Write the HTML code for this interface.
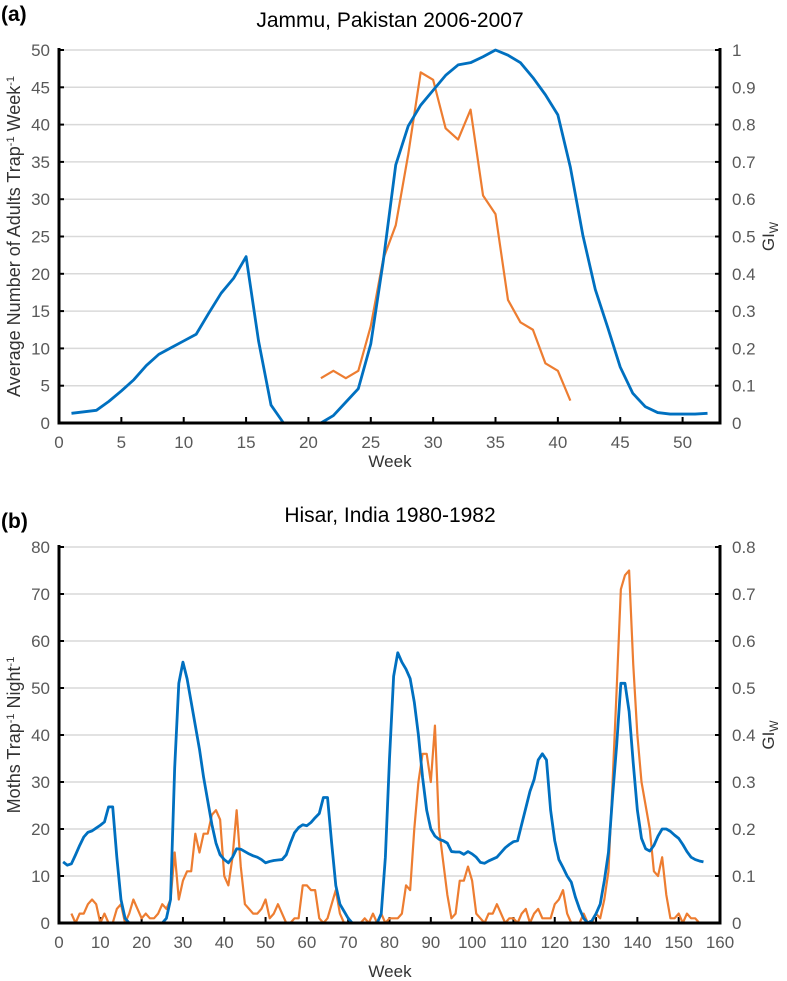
<!DOCTYPE html>
<html><head><meta charset="utf-8"><style>
html,body{margin:0;padding:0;background:#fff;}
svg{display:block;font-family:"Liberation Sans",sans-serif;}
</style></head><body>
<svg id="chart" width="787" height="981" viewBox="0 0 787 981" xmlns="http://www.w3.org/2000/svg"></svg>
<script>
// Panel (a) data
const aWeeks = [1,2,3,4,5,6,7,8,9,10,11,12,13,14,15,16,17,18,19,20,21,22,23,24,25,26,27,28,29,30,31,32,33,34,35,36,37,38,39,40,41,42,43,44,45,46,47,48,49,50,51,52];
const aGI = [0.026,0.03,0.034,0.058,0.086,0.116,0.154,0.184,0.202,0.22,0.238,0.294,0.348,0.388,0.446,0.22,0.048,0,0,0,0,0.02,0.056,0.092,0.212,0.434,0.692,0.796,0.852,0.892,0.932,0.96,0.966,0.982,1.0,0.986,0.966,0.926,0.88,0.826,0.686,0.504,0.358,0.256,0.15,0.08,0.044,0.028,0.024,0.024,0.024,0.026];
const aTrapWeeks = [21,22,23,24,25,26,27,28,29,30,31,32,33,34,35,36,37,38,39,40,41];
const aTrap = [6,7,6,7,13,22,26.5,36,47,46,39.5,38,42,30.5,28,16.5,13.5,12.5,8,7,3];
const aXTicks = [0,5,10,15,20,25,30,35,40,45,50];
const aYTicks = [0,5,10,15,20,25,30,35,40,45,50];
const aY2Ticks = ["0","0.1","0.2","0.3","0.4","0.5","0.6","0.7","0.8","0.9","1"];
// Panel (b) data
const bGI = [13,12.3,12.6,14.5,16.5,18.3,19.3,19.6,20.2,20.8,21.5,24.7,24.7,14,5,1,0,0,0,0,0,0,0,0,0,1,5,33,51,55.5,52,47,42,37,31,26,21,17,14.5,13.5,12.8,14,15.8,15.7,15.2,14.7,14.3,14,13.5,12.8,13.1,13.3,13.4,13.5,14.5,17,19.2,20.3,20.9,20.7,21.4,22.4,23.3,26.7,26.7,17,8,4,2.5,1,0,0,0,0,0,0,0,2,14,35,52.5,57.5,55.5,54,52,47,40,31,24,20,18.5,17.8,17.5,17,15.2,15.1,15.1,14.6,15.2,14.7,14,12.9,12.7,13.2,13.6,14,15,16,16.7,17.3,17.5,21,24.5,28,30.5,34.7,36,34.7,24,17.5,13.5,11.8,10,8.7,5.5,3,1,0,0.5,2,4,9,15,27,38,51,51,45,34,24,18,15.8,15.3,16.5,18.5,20,20,19.5,18.7,18,16.7,15.2,14,13.5,13.2,13].map(v=>v/100);
const bTrapStart = 3;
const bTrap = [2,0,2,2,4,5,4,0,2,0,0,3,4,0,2,5,3,1,2,1,1,2,4,3,5,15,5,9,11,11,19,15,19,19,23,24,22,10,8,14,24,12,4,3,2,2,3,5,1,2,4,2,0,0,1,1,8,8,7,7,1,0,1,4,7,2,0,0,0,0,0,1,0,2,0,2,0,1,1,1,2,8,7,20,30,36,36,30,42,20,13,6,1,2,9,9,12,9,2,1,0,2,2,4,2,0,1,1,0,2,3,0,2,3,1,1,1,4,5,7,2,0,0,0,2,0,0,2,1,5,11,30,50,71,74,75,55,40,30,25,20,11,10,14,6,1,1,2,0,2,1,1,0];
const bXTicks = [0,10,20,30,40,50,60,70,80,90,100,110,120,130,140,150,160];
const bYTicks = [0,10,20,30,40,50,60,70,80];
const bY2Ticks = ["0","0.1","0.2","0.3","0.4","0.5","0.6","0.7","0.8"];

const NS="http://www.w3.org/2000/svg";
const svg=document.getElementById('chart');
function mk(tag,attrs,parent){const e=document.createElementNS(NS,tag);for(const k in attrs)e.setAttribute(k,attrs[k]);(parent||svg).appendChild(e);return e;}
function txt(s,attrs,parent){const e=mk('text',attrs,parent);e.textContent=s;return e;}

function panel(cfg){
  const g=mk('g',{});
  
  
  const X=v=>cfg.x0+(v-cfg.xmin)/(cfg.xmax-cfg.xmin)*(cfg.x1-cfg.x0);
  const Y=v=>cfg.y0-(v/cfg.ymax)*(cfg.y0-cfg.y1);
  const Y2=v=>cfg.y0-(v/cfg.y2max)*(cfg.y0-cfg.y1);
  cfg.yTicks.forEach((t,i)=>{
    if(t>0){const gl=mk('line',{x1:cfg.x0,x2:cfg.x1,y1:Y(t),y2:Y(t),stroke:'#d9d9d9','stroke-width':1.5},g);
      }
    const tl=txt(String(t),{x:cfg.x0-9,y:Y(t)+6,'text-anchor':'end','font-size':17,fill:'#595959'},g);
    
    mk('line',{x1:cfg.x0,x2:cfg.x0+5,y1:Y(t),y2:Y(t),stroke:'#000','stroke-width':2},g);
    mk('line',{x1:cfg.x1-5,x2:cfg.x1,y1:Y(t),y2:Y(t),stroke:'#000','stroke-width':2},g);
    const rl=txt(cfg.y2Ticks[i],{x:cfg.x1+12,y:Y(t)+6,'font-size':17,fill:'#595959'},g);
    
  });
  cfg.xTicks.forEach(t=>{
    mk('line',{x1:X(t),x2:X(t),y1:cfg.y0,y2:cfg.y0-6,stroke:'#000','stroke-width':2},g);
    const xl=txt(String(t),{x:X(t),y:cfg.y0+25,'text-anchor':'middle','font-size':17,fill:'#595959'},g);
    
  });
  const trap=mk('polyline',{points:cfg.trapX.map((w,i)=>X(w)+','+Y(cfg.trap[i])).join(' '),fill:'none',stroke:'#ed7d31','stroke-width':2.2,'stroke-linejoin':'round'},g);
  
  const gi=mk('polyline',{points:cfg.giX.map((w,i)=>X(w)+','+Y2(cfg.gi[i])).join(' '),fill:'none',stroke:'#0070c0','stroke-width':2.8,'stroke-linejoin':'round'},g);
  
  const ax=mk('path',{d:`M${cfg.x0},${cfg.y1-2} V${cfg.y0} H${cfg.x1} V${cfg.y1-2}`,fill:'none',stroke:'#000','stroke-width':3},g);
  
  const tt=txt(cfg.title,{x:390,y:cfg.titleY,'text-anchor':'middle','font-size':21,fill:'#000'},g);
  
  const pl=txt(cfg.letter,{x:1,y:cfg.letterY,'font-size':21,'font-weight':'bold',fill:'#000'},g);
  
  const xt=txt('Week',{x:390,y:cfg.xTitleY,'text-anchor':'middle','font-size':17,fill:'#333'},g);
  
  const ym=(cfg.y0+cfg.y1)/2;
  const yt=mk('text',{x:0,y:0,transform:`translate(20,${ym}) rotate(-90)`,'text-anchor':'middle','font-size':18,fill:'#333'},g);
  yt.innerHTML=cfg.yTitle;
  
  const y2=mk('text',{x:0,y:0,transform:`translate(774,${ym}) rotate(-90)`,'text-anchor':'middle','font-size':17,fill:'#333'},g);
  y2.innerHTML='GI<tspan font-size="12" dy="4">W</tspan>';
  
}

panel({name:'panel-a',x0:59,x1:720,xmin:0,xmax:53,y0:423,y1:50,ymax:50,y2max:1,
  yTicks:aYTicks,y2Ticks:aY2Ticks,xTicks:aXTicks,trapX:aTrapWeeks,trap:aTrap,giX:aWeeks,gi:aGI,
  title:'Jammu, Pakistan 2006-2007',titleY:27,letter:'(a)',letterY:21,xTitleY:467,
  yTitle:'Average Number of Adults Trap<tspan font-size="11" dy="-6">-1</tspan><tspan dy="6"> Week</tspan><tspan font-size="11" dy="-6">-1</tspan>'});

panel({name:'panel-b',x0:59,x1:720,xmin:0,xmax:160,y0:923,y1:547,ymax:80,y2max:0.8,
  yTicks:bYTicks,y2Ticks:bY2Ticks,xTicks:bXTicks,trapX:bTrap.map((_,i)=>bTrapStart+i),trap:bTrap,giX:bGI.map((_,i)=>1+i),gi:bGI,
  title:'Hisar, India 1980-1982',titleY:522,letter:'(b)',letterY:528,xTitleY:977,
  yTitle:'Moths Trap<tspan font-size="11" dy="-6">-1</tspan><tspan dy="6"> Night</tspan><tspan font-size="11" dy="-6">-1</tspan>'});
</script>
</body></html>
